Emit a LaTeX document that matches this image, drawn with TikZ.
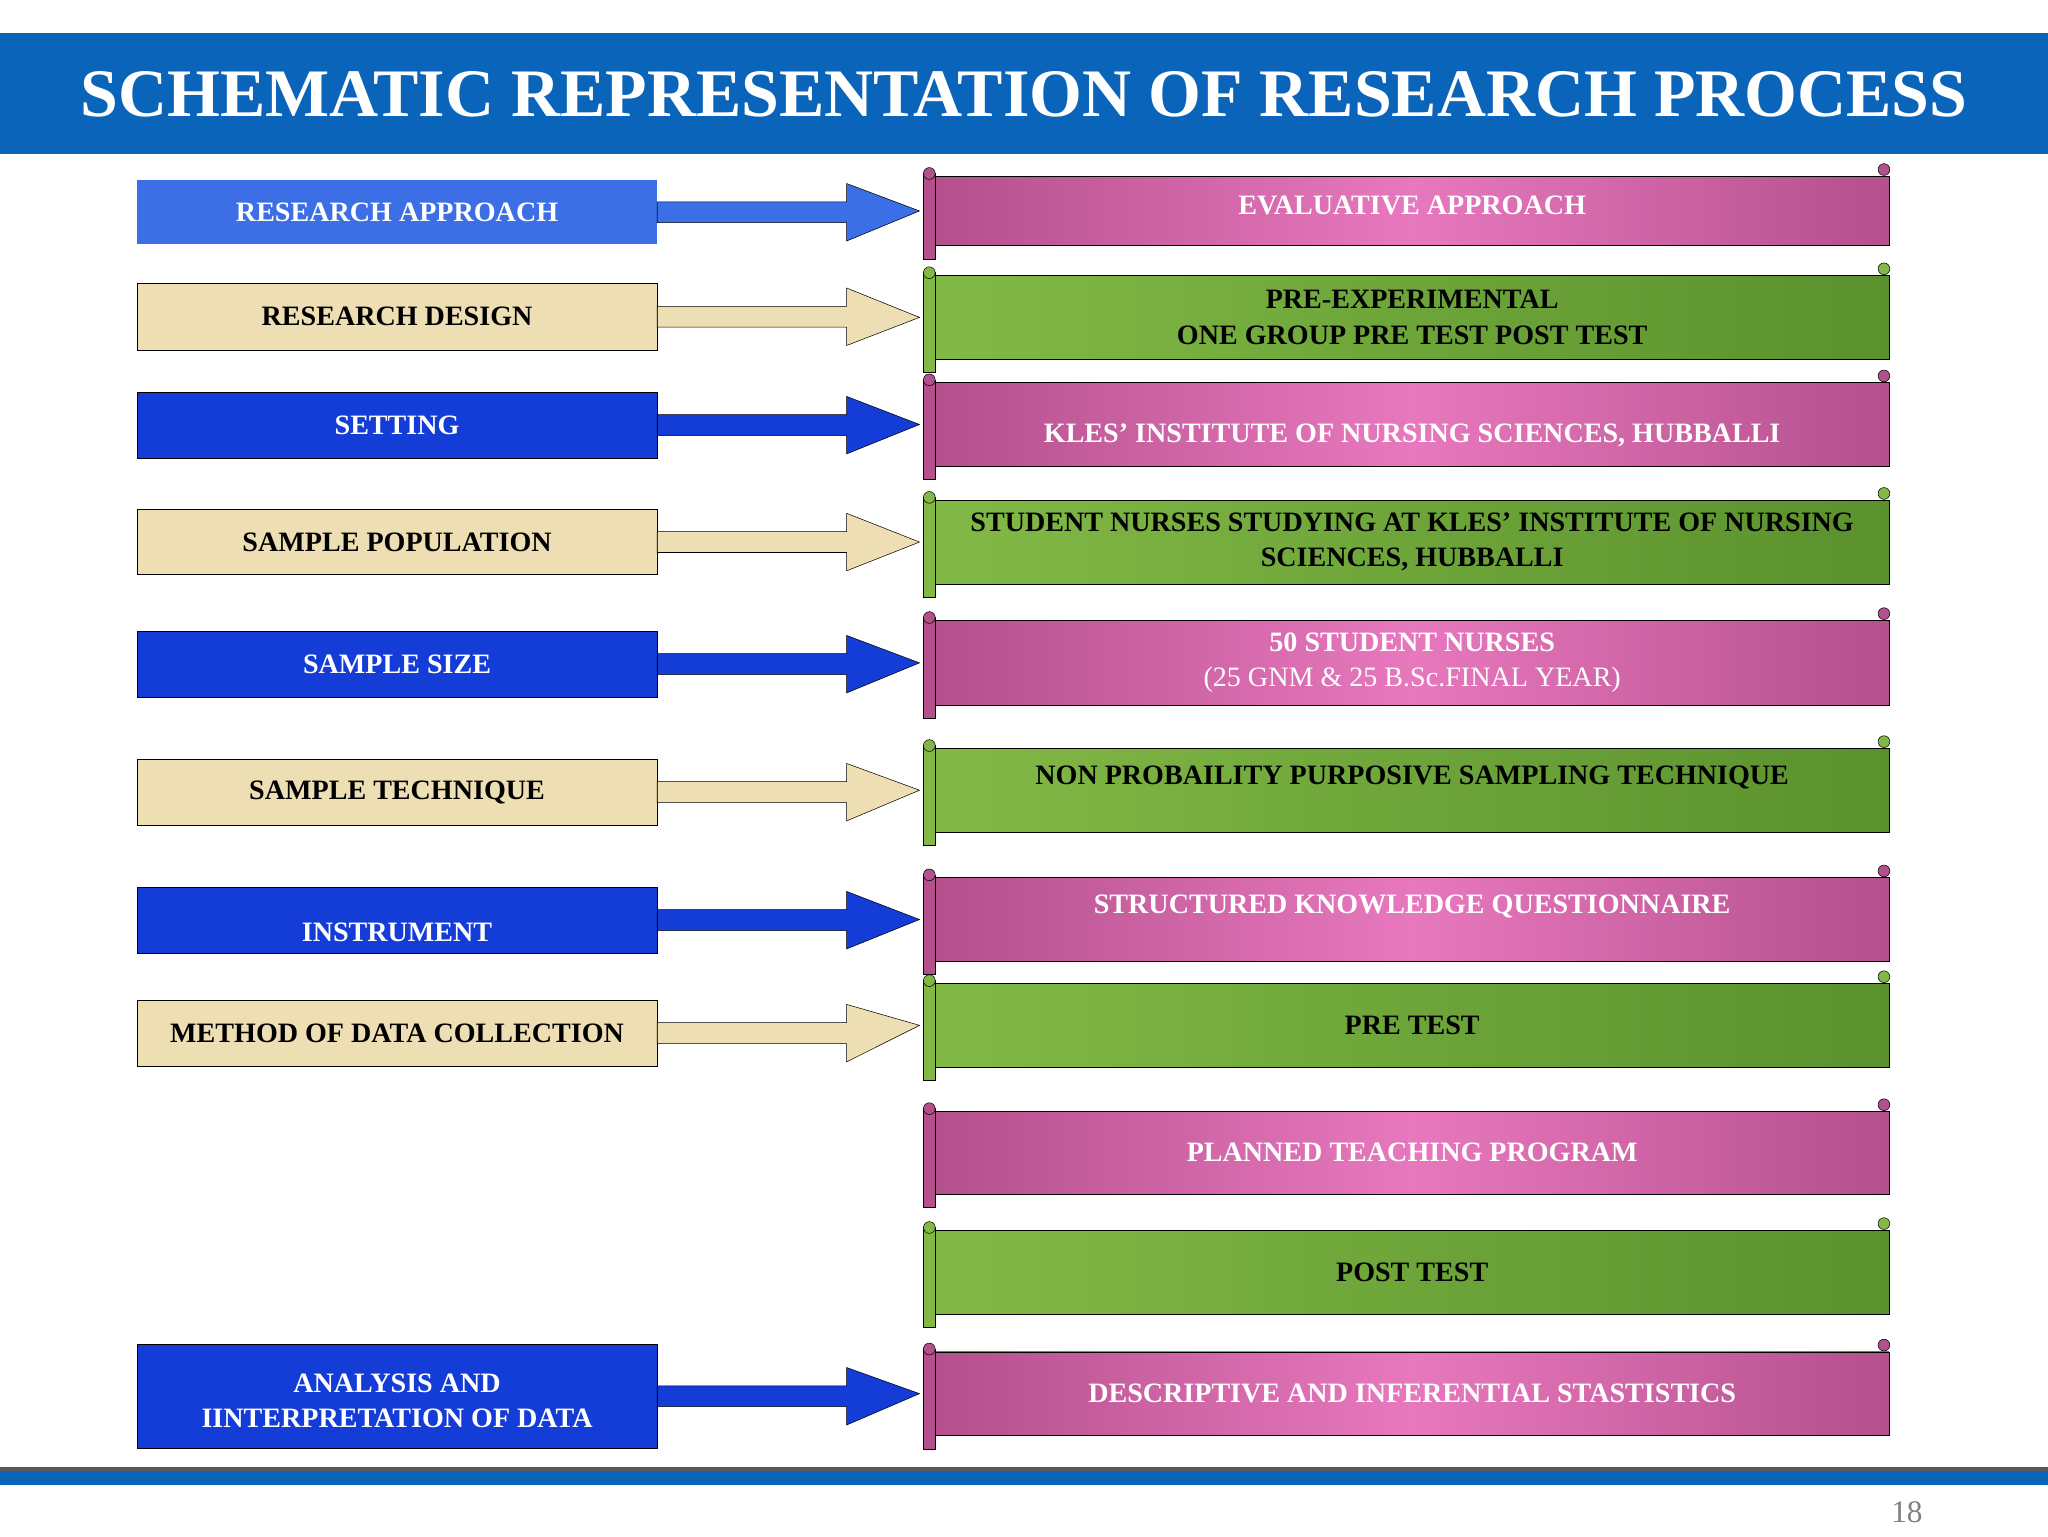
\documentclass[tikz,border=0pt]{standalone}
\usepackage{fontspec}
\setmainfont{Liberation Serif}
\usetikzlibrary{calc}
\definecolor{titleblue}{RGB}{10,100,185}
\definecolor{lblue}{RGB}{60,110,230}
\definecolor{dblue}{RGB}{20,60,215}
\definecolor{tan}{RGB}{238,222,180}
\definecolor{pinkA}{RGB}{232,120,190}
\definecolor{pinkB}{RGB}{180,80,140}
\definecolor{greenA}{RGB}{130,185,70}
\definecolor{greenB}{RGB}{90,145,45}
\tikzset{
  lbox/.style={rectangle, draw=black, minimum width=398pt, inner sep=0pt, align=center,
    font=\fontsize{21.5}{27}\selectfont\bfseries},
  bluebox/.style={lbox, fill=dblue, text=white},
  tanbox/.style={lbox, fill=tan, text=black},
  scroll/.style={rectangle, draw=black, minimum width=730pt, inner sep=0pt, align=center,
    font=\fontsize{21.5}{27}\selectfont\bfseries},
  pinkscroll/.style={scroll, left color=pinkB, right color=pinkB, middle color=pinkA, text=white},
  greenscroll/.style={scroll, left color=greenA, right color=greenB, text=black},
}
% left box: name, top, bottom, style, text
\newcommand\lbx[5]{\node[#4, minimum height={#3-#2}] (#1) at (304,{(#2+#3)/2}) {#5};}
% scroll: name, top, bottom, style, fill, text
\newcommand\scr[6]{%
  \node[#4, minimum height={#3-#2}, anchor=west] (#1) at (716,{(#2+#3)/2}) {#6};
  \draw[fill=#5] ($(#1.north west)+(-9,-2)$) rectangle ($(#1.south west)+(0,10)$);
  \draw[fill=#5] ($(#1.north west)+(-4.5,-2)$) circle (4.5);
  \draw[fill=#5] ($(#1.north east)+(-4,-5)$) circle (4.5);}
% arrow: from box, to scroll, fill
\newcommand\arr[3]{%
  \draw[fill=#3] ($(#1.east)+(0,-8)$) -- ($(#1.east)+(145,-8)$) -- ($(#1.east)+(145,-22)$)
    -- ($(#2.west)+(-12,0)$) coordinate (tip) -- ($(#1.east)+(145,22)$) -- ($(#1.east)+(145,8)$)
    -- ($(#1.east)+(0,8)$) -- cycle;}
\begin{document}
\begin{tikzpicture}[x=1pt,y=-1pt]
\useasboundingbox (0,0) rectangle (1568,1176);
\fill[titleblue] (0,25) rectangle (1568,118);
\node[text=white, font=\fontsize{52}{56}\selectfont\bfseries] (title) at (784,72)
  {SCHEMATIC REPRESENTATION OF RESEARCH PROCESS};
\fill[titleblue] (0,1123) rectangle (1568,1137);
\draw[line width=2pt, gray!70!black] (0,1125) -- (1568,1125);
\node[text=gray, font=\fontsize{24}{28}\selectfont] (pg) at (1460,1158) {18};

\lbx{b1}{138}{187}{bluebox, fill=lblue, draw=none}{RESEARCH APPROACH}
\lbx{b2}{217}{268}{tanbox}{RESEARCH DESIGN}
\lbx{b3}{300}{351}{bluebox}{SETTING}
\lbx{b4}{390}{440}{tanbox}{SAMPLE POPULATION}
\lbx{b5}{483}{534}{bluebox}{SAMPLE SIZE}
\lbx{b6}{581}{632}{tanbox}{SAMPLE TECHNIQUE}
\lbx{b7}{679}{730}{bluebox}{\\[6pt]INSTRUMENT}
\lbx{b8}{766}{816}{tanbox}{METHOD OF DATA COLLECTION}
\lbx{b9}{1029}{1109}{bluebox}{\\[-6pt]ANALYSIS AND\\IINTERPRETATION OF DATA}

\scr{s1}{135}{188}{pinkscroll}{pinkB}{EVALUATIVE APPROACH\\[-18pt]}
\scr{s2}{211}{275}{greenscroll}{greenA}{PRE-EXPERIMENTAL\\ONE GROUP PRE TEST POST TEST}
\scr{s3}{293}{357}{pinkscroll}{pinkB}{\\[4pt]KLES’ INSTITUTE OF NURSING SCIENCES, HUBBALLI}
\scr{s4}{383}{447}{greenscroll}{greenA}{STUDENT NURSES STUDYING AT KLES’ INSTITUTE OF NURSING\\SCIENCES, HUBBALLI}
\scr{s5}{475}{540}{pinkscroll}{pinkB}{50 STUDENT NURSES\\\mdseries (25 GNM \& 25 B.Sc.FINAL YEAR)}
\scr{s6}{573}{637}{greenscroll}{greenA}{NON PROBAILITY PURPOSIVE SAMPLING TECHNIQUE\\[-4pt]}
\scr{s7}{672}{736}{pinkscroll}{pinkB}{STRUCTURED KNOWLEDGE QUESTIONNAIRE\\[-4pt]}
\scr{s8}{753}{817}{greenscroll}{greenA}{PRE TEST}
\scr{s9}{851}{914}{pinkscroll}{pinkB}{PLANNED TEACHING PROGRAM}
\scr{s10}{942}{1006}{greenscroll}{greenA}{POST TEST}
\scr{s11}{1035}{1099}{pinkscroll}{pinkB}{DESCRIPTIVE AND INFERENTIAL STASTISTICS}

\arr{b1}{s1}{lblue}
\arr{b2}{s2}{tan}
\arr{b3}{s3}{dblue}
\arr{b4}{s4}{tan}
\arr{b5}{s5}{dblue}
\arr{b6}{s6}{tan}
\arr{b7}{s7}{dblue}
\arr{b8}{s8}{tan}
\arr{b9}{s11}{dblue}
\end{tikzpicture}
\end{document}
